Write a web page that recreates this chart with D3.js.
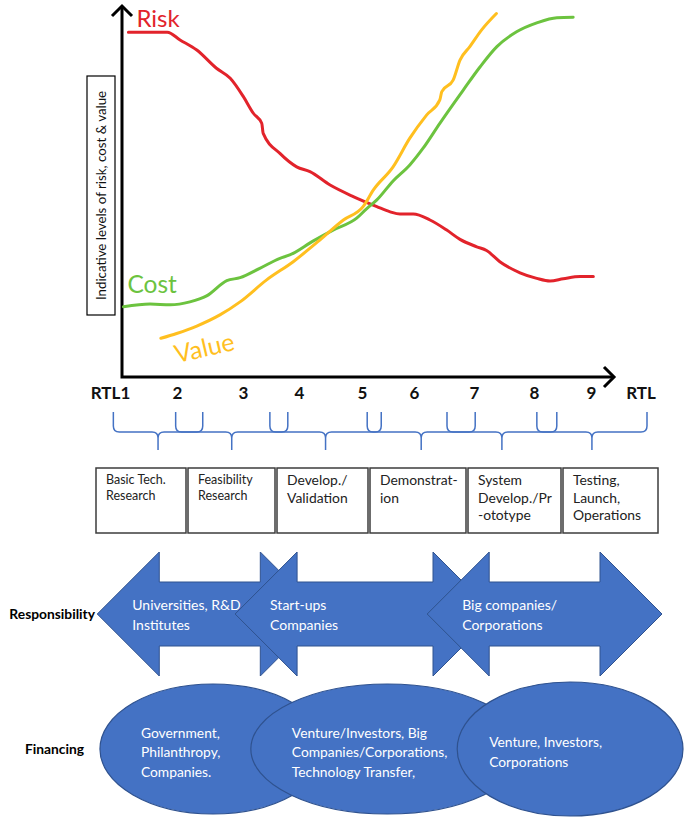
<!DOCTYPE html>
<html>
<head>
<meta charset="utf-8">
<script src="https://cdn.jsdelivr.net/npm/d3@7"></script>
<style>
  body { margin: 0; background: #fff; }
  text { font-family: Lato, "Open Sans", sans-serif; }
</style>
</head>
<body>
<div id="chart"></div>
<script>
// curves: [indicative position along axis (0-100), indicative level (0-100)]
const riskPoints = [[1.3,92.7],[9.2,92.7],[11.8,90.6],[15.2,87.9],[19.2,83.0],[22.0,80.3],[24.7,75.3],
  [26.7,70.9],[28.4,68.2],[28.7,65.5],[32.1,60.1],[35.5,56.5],[38.2,55.2],[42.3,51.6],[47.0,48.5],
  [51.8,45.8],[54.5,44.4],[56.5,43.8],[59.2,43.8],[62.6,42.2],[66.0,39.5],[68.7,37.0],[72.1,35.0],
  [74.1,34.0],[76.8,31.0],[80.9,28.0],[84.3,26.5],[87.0,25.8],[89.7,26.4],[93.1,27.0],[95.8,27.0]];
const costPoints = [[0.3,18.9],[5.7,19.6],[9.8,19.4],[13.8,20.2],[17.2,21.8],[21.3,25.9],[24.0,26.7],
  [28.0,29.2],[32.1,31.9],[34.1,32.8],[38.9,36.6],[42.9,39.5],[47.7,42.7],[49.7,45.2],[51.8,47.6],
  [55.1,52.7],[58.5,57.0],[61.2,61.5],[64.6,68.2],[69.4,77.2],[72.8,83.4],[76.2,88.8],[80.2,92.8],
  [84.3,95.2],[88.4,96.6],[91.7,96.7]];
const valuePoints = [[7.9,10.4],[11.1,11.7],[15.2,13.7],[19.9,16.7],[24.0,20.2],[29.4,26.1],[34.8,31.0],
  [40.2,36.8],[45.0,42.2],[49.0,45.8],[51.1,50.3],[55.1,56.5],[58.5,64.2],[61.9,70.4],[64.6,74.5],
  [65.0,76.7],[67.3,79.8],[68.7,85.2],[70.7,88.8],[73.1,93.3],[76.1,97.7]];

// RTL axis
const rtlLevels = [1, 2, 3, 4, 5, 6, 7, 8, 9];
const rtlTickLabels = ["RTL1", "2", "3", "4", "5", "6", "7", "8", "9"];

// stages (boxes) and the RTL span of each brace
const stageLines = [["Basic Tech.", "Research"], ["Feasibility", "Research"], ["Develop./", "Validation"],
  ["Demonstrat-", "ion"], ["System", "Develop./Pr", "-ototype"], ["Testing,", "Launch,", "Operations"]];
const stageRtlStart = [1.05, 1.98, 3.48, 5.1, 6.55, 8.05];
const stageRtlEnd = [2.39, 3.8, 5.37, 7.02, 8.4, 10.12];

// responsibility arrows
const actorLines = [["Universities, R&D", "Institutes"], ["Start-ups", "Companies"], ["Big companies/", "Corporations"]];
const actorRtlStart = [0.81, 2.88, 6.22];
const actorRtlEnd = [4.37, 7.35, 10.42];

// financing ellipses
const funderLines = [["Government,", "Philanthropy,", "Companies."],
  ["Venture/Investors, Big", "Companies/Corporations,", "Technology Transfer,"],
  ["Venture, Investors,", "Corporations"]];
const funderRtlStart = [0.85, 3.14, 6.72];
const funderRtlEnd = [4.43, 7.83, 10.84];

const W = 685, H = 819;
const blue = "#4472c4", blueEdge = "#2f528f";

const svg = d3.select("#chart").append("svg")
  .attr("width", W).attr("height", H)
  .attr("viewBox", `0 0 ${W} ${H}`);

const x = d3.scaleLinear().domain([0, 100]).range([122, 614]);
const y = d3.scaleLinear().domain([0, 100]).range([377, 5]);
const rtl = d3.scaleLinear().domain([1, 2, 3, 4, 5, 6, 7, 8, 9, 10])
  .range([110, 177, 243, 299, 362, 414, 474, 534, 591, 641]);
const stageEdge = d3.scaleLinear().domain(d3.range(7))
  .range([96, 188, 277, 370, 468, 563, 660]);

// ---- axes
const ax = svg.append("g").attr("fill", "none").attr("stroke", "#000")
  .attr("stroke-width", 3).attr("stroke-linejoin", "miter");
ax.append("path").attr("d", `M${x(0)},${y(100) + 2}V${y(0)}H${x(100)}`);
ax.append("path").attr("d", `M${x(100) - 10},${y(0) - 10}L${x(100)},${y(0)}L${x(100) - 10},${y(0) + 10}`);
ax.append("path").attr("d", `M${x(0) - 10},${y(100) + 11}L${x(0)},${y(100) + 1}L${x(0) + 10},${y(100) + 11}`);

const xAxis = d3.axisBottom(rtl)
  .tickValues(rtlLevels)
  .tickFormat((d, i) => rtlTickLabels[i])
  .tickSize(0)
  .tickPadding(10);

svg.append("g")
  .attr("transform", `translate(0,${y(0)})`)
  .call(xAxis)
  .call(g => g.select(".domain").remove())
  .call(g => g.selectAll("text")
    .attr("font-family", "Lato, sans-serif")
    .attr("font-size", 17).attr("font-weight", 700).attr("fill", "#111"));

svg.append("text").attr("x", rtl(10)).attr("y", 399)
  .attr("text-anchor", "middle").attr("font-size", 17).attr("font-weight", 700)
  .attr("fill", "#111").text("RTL");

// y axis label box
svg.append("rect").attr("x", 87).attr("y", 76).attr("width", 28).attr("height", 239)
  .attr("fill", "#fff").attr("stroke", "#000").attr("stroke-width", 1.2);
svg.append("text").attr("transform", "translate(101,195.5) rotate(-90)")
  .attr("text-anchor", "middle").attr("dy", "0.35em")
  .attr("font-size", 13.3).attr("fill", "#111")
  .text("Indicative levels of risk, cost & value");

// ---- curves
const line = d3.line().x(d => x(d[0])).y(d => y(d[1])).curve(d3.curveMonotoneX);
const curves = [
  {pts: riskPoints, color: "#e2232b", label: "Risk", size: 24, dx: 8, dy: -5, rot: 0},
  {pts: costPoints, color: "#6cc33f", label: "Cost", size: 24.5, dx: 4, dy: -14, rot: 0},
  {pts: valuePoints, color: "#ffbf1f", label: "Value", size: 25, dx: 16, dy: 25, rot: -13}
];
svg.append("g").selectAll("path").data(curves).join("path")
  .attr("d", d => line(d.pts))
  .attr("fill", "none").attr("stroke", d => d.color)
  .attr("stroke-width", 3).attr("stroke-linecap", "round").attr("stroke-linejoin", "round");

svg.append("g").selectAll("text").data(curves).join("text")
  .attr("transform", d => `translate(${x(d.pts[0][0]) + d.dx},${y(d.pts[0][1]) + d.dy}) rotate(${d.rot})`)
  .attr("font-size", d => d.size).attr("fill", d => d.color)
  .text(d => d.label);

// ---- braces
const bTop = 412, bMid = 432, bTip = 450;
function brace(x0, x1) {
  const xm = (x0 + x1) / 2, r = 6;
  return `M${x0},${bTop}L${x0},${bMid - r}Q${x0},${bMid} ${x0 + r},${bMid}` +
    `L${xm - r},${bMid}Q${xm},${bMid} ${xm},${bMid + r}L${xm},${bTip}` +
    `M${xm},${bMid + r}Q${xm},${bMid} ${xm + r},${bMid}` +
    `L${x1 - r},${bMid}Q${x1},${bMid} ${x1},${bMid - r}L${x1},${bTop}`;
}
svg.append("g").selectAll("path").data(stageRtlStart).join("path")
  .attr("d", (d, i) => brace(rtl(d), rtl(stageRtlEnd[i])))
  .attr("fill", "none").attr("stroke", blue).attr("stroke-width", 1.5);

// ---- stage boxes
const boxTop = 468, boxBottom = 533;
const boxes = svg.append("g").selectAll("g").data(stageLines).join("g");
boxes.append("rect")
  .attr("x", (d, i) => stageEdge(i))
  .attr("y", boxTop)
  .attr("width", (d, i) => stageEdge(i + 1) - stageEdge(i) - 2)
  .attr("height", boxBottom - boxTop)
  .attr("fill", "#fff").attr("stroke", "#3c3c3c").attr("stroke-width", 1.5);
boxes.each(function (lines, i) {
  const small = i < 2;
  const t = d3.select(this).append("text")
    .attr("font-size", small ? 12.5 : 13.9).attr("fill", "#222");
  t.selectAll("tspan").data(lines).join("tspan")
    .attr("x", stageEdge(i) + 10)
    .attr("y", (d, j) => (small ? 484 : 485) + j * (small ? 16 : 17.7))
    .text(d => d);
});

// ---- responsibility arrows
const cy = 614, headH = 62, shaftH = 32, headL = 62;
function dblArrow(a, b) {
  const bl = a + headL, br = b - headL;
  return `M${a},${cy}L${bl},${cy - headH}L${bl},${cy - shaftH}L${br},${cy - shaftH}L${br},${cy - headH}` +
    `L${b},${cy}L${br},${cy + headH}L${br},${cy + shaftH}L${bl},${cy + shaftH}L${bl},${cy + headH}Z`;
}
const arrows = svg.append("g").selectAll("g").data(actorLines).join("g");
arrows.append("path")
  .attr("d", (d, i) => dblArrow(rtl(actorRtlStart[i]), rtl(actorRtlEnd[i])))
  .attr("fill", blue).attr("stroke", blueEdge).attr("stroke-width", 1);
arrows.each(function (lines, i) {
  d3.select(this).append("text").attr("font-size", 14).attr("fill", "#fff")
    .selectAll("tspan").data(lines).join("tspan")
    .attr("x", rtl(actorRtlStart[i]) + 35)
    .attr("y", (d, j) => 610 + j * 19.5)
    .text(d => d);
});

svg.append("text").attr("x", 95).attr("y", 619).attr("text-anchor", "end")
  .attr("font-size", 13.8).attr("font-weight", 700).attr("fill", "#000").text("Responsibility");

// ---- financing ellipses
const ey = 749;
const funders = svg.append("g").selectAll("g").data(funderLines).join("g");
funders.append("ellipse")
  .attr("cx", (d, i) => (rtl(funderRtlStart[i]) + rtl(funderRtlEnd[i])) / 2)
  .attr("cy", ey)
  .attr("rx", (d, i) => (rtl(funderRtlEnd[i]) - rtl(funderRtlStart[i])) / 2)
  .attr("ry", (d, i) => i === 2 ? 67 : 65)
  .attr("fill", blue).attr("stroke", blueEdge).attr("stroke-width", 1.2);
funders.each(function (lines, i) {
  const left = rtl(funderRtlStart[i]);
  const lh = 19.5, first = 752 - (lines.length - 1) * lh / 2 + 5;
  d3.select(this).append("text").attr("font-size", 13.8).attr("fill", "#fff")
    .selectAll("tspan").data(lines).join("tspan")
    .attr("x", left + (i === 2 ? 32 : 41))
    .attr("y", (d, j) => first + j * lh)
    .text(d => d);
});

svg.append("text").attr("x", 25).attr("y", 754)
  .attr("font-size", 13.8).attr("font-weight", 700).attr("fill", "#000").text("Financing");
</script>
</body>
</html>
